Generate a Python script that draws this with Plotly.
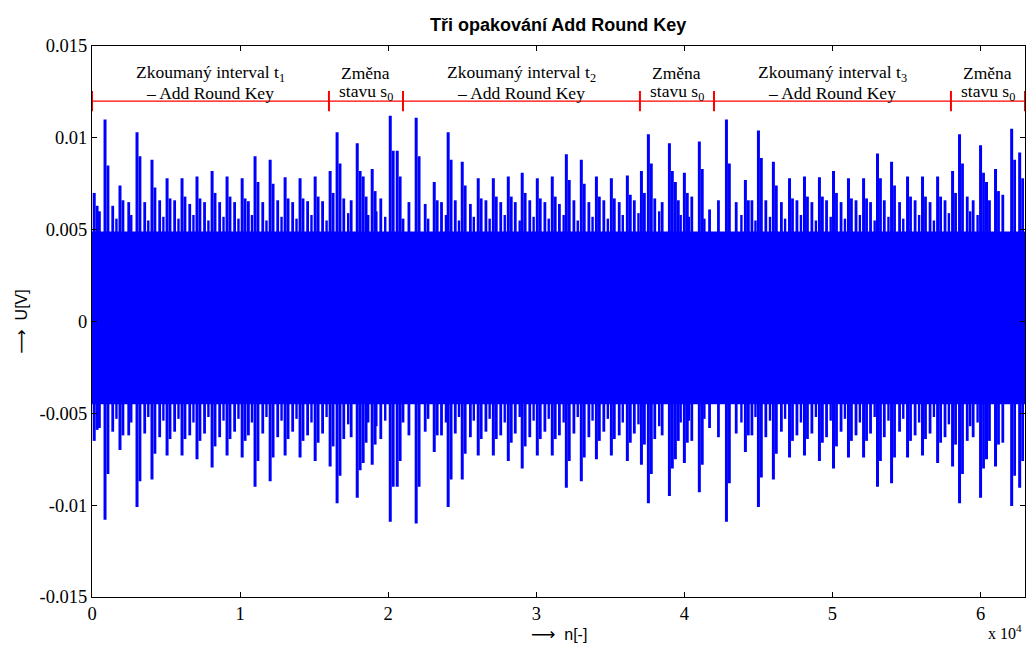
import plotly.graph_objects as go

# ---- trace data (sample index n, voltage U in volts) ----
N_SAMPLES = 63000

# dominant peaks of the trace: position, positive and negative extreme
peak_n = [150, 880, 1890, 3040, 4050, 5070, 6080, 7090, 8110, 9120, 10140, 11010, 12030,
          13040, 14050, 15070, 16080, 16550, 17910, 18310, 18920, 20140, 20610,
          21890, 23110, 24050, 25000, 26080, 27100, 28110, 29050, 30070, 31080, 32030,
          33040, 34060, 35070, 36150, 37100, 37570, 38990, 39390, 40000, 41010,
          42840, 44120, 45000, 46010, 47100, 48110, 49120, 50070, 51080, 52100, 53040,
          53990, 55070, 56080, 57100, 58110, 58580, 60000, 60400, 61010, 62100, 62640]
peak_hi = [0.0070, 0.0110, 0.0074, 0.0103, 0.0088, 0.0078, 0.0078, 0.0079, 0.0082, 0.0079,
           0.0078, 0.0090, 0.0088, 0.00785, 0.0078, 0.0079, 0.0082, 0.0103, 0.0097, 0.0079,
           0.0083, 0.0112, 0.0093,
           0.0111, 0.0076, 0.0103, 0.0087, 0.0078, 0.0078, 0.0079, 0.0081, 0.0078, 0.0079,
           0.0091, 0.0088, 0.0079, 0.0078, 0.00795, 0.0082, 0.0102, 0.0097, 0.0076, 0.0081,
           0.0098,
           0.0110, 0.0077, 0.0104, 0.0087, 0.0078, 0.0079, 0.00785, 0.0082, 0.0078, 0.0078,
           0.00915, 0.0087, 0.0079, 0.0079, 0.0079, 0.0082, 0.0102, 0.0096, 0.0076, 0.0083,
           0.0105, 0.0092]
peak_lo = [-0.0065, -0.0108, -0.0070, -0.0101, -0.0086, -0.0073, -0.0073, -0.0075, -0.00795,
           -0.0073, -0.0074, -0.0090, -0.0087, -0.0073, -0.0074, -0.0076, -0.0079, -0.0099,
           -0.0096, -0.0077, -0.0078, -0.0109, -0.0090,
           -0.0110, -0.0071, -0.0101, -0.0086, -0.0073, -0.0073, -0.0076, -0.0080, -0.0073,
           -0.0073, -0.00905, -0.0087, -0.0075, -0.0073, -0.0076, -0.0078, -0.0099, -0.0095,
           -0.0075, -0.0077, -0.0093,
           -0.0109, -0.0071, -0.0101, -0.0086, -0.0074, -0.0073, -0.0076, -0.0080, -0.0074,
           -0.0074, -0.0090, -0.0088, -0.0074, -0.0073, -0.0077, -0.0079, -0.0099, -0.0096,
           -0.0075, -0.0079, -0.01005, -0.00905]

# shoulders right next to the dominant peaks
shoulder_n = [350, 1080, 2090, 3240, 4250, 5270, 6280, 7290, 8310, 9320, 10340, 11210, 12230,
              13240, 14250, 15270, 16280, 16750, 18110, 18510, 19120, 20340, 20810,
              22090, 23310, 24250, 25200, 26280, 27300, 28310, 29250, 30270, 31280, 32230,
              33240, 34260, 35270, 36350, 37300, 37770, 39190, 39590, 40200, 41210,
              43040, 44320, 45200, 46210, 47300, 48310, 49320, 50270, 51280, 52300, 53240,
              54190, 55270, 56280, 57300, 58310, 58780, 60200, 60600, 61210, 62300, 62840]
shoulder_hi = [0.0063, 0.0085, 0.0066, 0.0090, 0.0073, 0.0067, 0.0068, 0.0067, 0.0070, 0.0068,
               0.0067, 0.0076, 0.0075, 0.0067, 0.0067, 0.0068, 0.0070, 0.0086, 0.0082, 0.0068,
               0.0071, 0.0093, 0.0079,
               0.0090, 0.0066, 0.0088, 0.0074, 0.0067, 0.0068, 0.0068, 0.0070, 0.0067, 0.0068,
               0.0077, 0.0075, 0.0068, 0.0067, 0.0069, 0.0070, 0.0086, 0.0082, 0.0066, 0.0070,
               0.0083,
               0.0086, 0.0066, 0.0089, 0.0074, 0.0067, 0.0068, 0.0068, 0.0070, 0.0067, 0.0067,
               0.0078, 0.0074, 0.0068, 0.0068, 0.0068, 0.0070, 0.0086, 0.0081, 0.0066, 0.0071,
               0.0088, 0.0078]
shoulder_lo = [-0.0059, -0.0083, -0.0062, -0.0087, -0.0072, -0.0064, -0.0064, -0.0065, -0.0068,
               -0.0064, -0.0065, -0.0076, -0.0074, -0.0064, -0.0065, -0.0066, -0.0068, -0.0084,
               -0.0081, -0.0066, -0.0067, -0.0090, -0.0076,
               -0.0090, -0.0062, -0.0086, -0.0072, -0.0064, -0.0064, -0.0066, -0.0068, -0.0064,
               -0.0064, -0.0076, -0.0074, -0.0065, -0.0064, -0.0066, -0.0067, -0.0083, -0.0080,
               -0.0065, -0.0066, -0.0078,
               -0.0088, -0.0062, -0.0085, -0.0072, -0.0065, -0.0064, -0.0066, -0.0068, -0.0065,
               -0.0065, -0.0076, -0.0074, -0.0065, -0.0064, -0.0066, -0.0067, -0.0083, -0.0080,
               -0.0065, -0.0067, -0.0084, -0.0076]

# secondary peaks between the dominant ones
minor_n = [500, 1400, 2480, 3560, 4570, 5580, 6600, 7600, 8620, 9630, 10560, 11530, 12540,
           13550, 14560, 15570, 17000, 17500, 19500, 21000, 21400, 22500, 23600, 24530,
           25550, 26600, 27600, 28580, 29560, 30580, 31560, 32540, 33550, 34560, 35600,
           36620, 38000, 38500, 40500, 41700, 42300, 43500, 44560, 45500, 46550, 47600,
           48610, 49600, 50580, 51590, 52570, 53500, 54530, 55580, 56590, 57600, 59100,
           59500, 61500]
minor_hi = [0.0060, 0.0063, 0.0065, 0.0065, 0.0066, 0.0066, 0.0064, 0.0065, 0.0065, 0.0065,
            0.00655, 0.0065, 0.0066, 0.0065, 0.00655, 0.00655, 0.0067, 0.0066, 0.0067,
            0.0056, 0.0065, 0.0064, 0.0065, 0.0066, 0.0064, 0.0066, 0.0065, 0.0065, 0.0066,
            0.0065, 0.0064, 0.0066, 0.0065, 0.0066, 0.0065, 0.0066, 0.0067, 0.0065, 0.0068,
            0.0061, 0.0066, 0.0065, 0.0066, 0.0066, 0.0065, 0.0066, 0.0065, 0.0066, 0.0065,
            0.0066, 0.0065, 0.0066, 0.0065, 0.0066, 0.0065, 0.0066, 0.0068, 0.0066, 0.0069]
minor_lo = [-0.0058, -0.0060, -0.0062, -0.0061, -0.0063, -0.0060, -0.0062, -0.0061, -0.0063,
            -0.0060, -0.0062, -0.0061, -0.0063, -0.0060, -0.0062, -0.0061, -0.0064, -0.0063,
            -0.0064, -0.0055, -0.0062, -0.0060, -0.0062, -0.0061, -0.0063, -0.0060, -0.0062,
            -0.0061, -0.0063, -0.0060, -0.0062, -0.0061, -0.0063, -0.0060, -0.0062, -0.0061,
            -0.0064, -0.0062, -0.0065, -0.0058, -0.0063, -0.0061, -0.0062, -0.0063, -0.0060,
            -0.0062, -0.0061, -0.0063, -0.0060, -0.0062, -0.0061, -0.0063, -0.0060, -0.0062,
            -0.0061, -0.0063, -0.0065, -0.0063, -0.0066]

# small excursions just above / below the dense core
small_n = [1650, 2650, 3800, 4820, 5840, 6850, 7860, 8880, 9890, 10800, 11780, 12800, 13810,
           14820, 15840, 17300, 18650, 19200, 19800,
           22700, 23900, 24780, 25780, 26850, 27870, 28880, 29820, 30840, 31850, 32800,
           33800, 34830, 35840, 36900, 38300, 39750, 40300, 41350,
           43850, 44800, 45780, 46800, 47870, 48880, 49880, 50840, 51850, 52850, 53780,
           54780, 55850, 56850, 57860, 59300, 59800, 61800]
small_hi = [0.0056, 0.0058, 0.0055, 0.0057, 0.0056, 0.0058, 0.0055, 0.0057, 0.0056, 0.0058,
            0.0055, 0.0057, 0.0056, 0.0058, 0.0055, 0.0059, 0.0058, 0.0060, 0.0057,
            0.0056, 0.0058, 0.0055, 0.0057, 0.0056, 0.0058, 0.0055, 0.0057, 0.0056, 0.0058,
            0.0055, 0.0057, 0.0056, 0.0058, 0.0059, 0.0060, 0.0058, 0.0057,
            0.0056, 0.0058, 0.0055, 0.0057, 0.0056, 0.0058, 0.0055, 0.0057, 0.0056, 0.0058,
            0.0055, 0.0057, 0.0056, 0.0058, 0.0055, 0.0059, 0.0060, 0.0058]
small_lo = [-0.0053, -0.0055, -0.0052, -0.0054, -0.0053, -0.0055, -0.0052, -0.0054, -0.0053,
            -0.0055, -0.0052, -0.0054, -0.0053, -0.0055, -0.0052, -0.0056, -0.0055, -0.0057,
            -0.0054,
            -0.0053, -0.0055, -0.0052, -0.0054, -0.0053, -0.0055, -0.0052, -0.0054, -0.0053,
            -0.0055, -0.0052, -0.0054, -0.0053, -0.0055, -0.0056, -0.0057, -0.0055, -0.0054,
            -0.0053, -0.0055, -0.0052, -0.0054, -0.0053, -0.0055, -0.0052, -0.0054, -0.0053,
            -0.0055, -0.0052, -0.0054, -0.0053, -0.0055, -0.0052, -0.0056, -0.0057, -0.0055]

# dense core of the trace
band_top = 0.0049
band_bottom = -0.0045

# interval markers (sample boundaries) and their captions
interval_bounds = [0, 16000, 21000, 37000, 42000, 58000, 63000]
interval_level = 0.012
interval_line1 = ["Zkoumaný interval t<sub>1</sub>", "Změna",
                  "Zkoumaný interval t<sub>2</sub>", "Změna",
                  "Zkoumaný interval t<sub>3</sub>", "Změna"]
interval_line2 = ["– Add Round Key", "stavu s<sub>0</sub>",
                  "– Add Round Key", "stavu s<sub>0</sub>",
                  "– Add Round Key", "stavu s<sub>0</sub>"]

x_tick_vals = [0, 10000, 20000, 30000, 40000, 50000, 60000]
x_tick_text = ["0", "1", "2", "3", "4", "5", "6"]
y_tick_vals = [0.015, 0.01, 0.005, 0, -0.005, -0.01, -0.015]
y_tick_text = ["0.015", "0.01", "0.005", "0", "-0.005", "-0.01", "-0.015"]

BLUE = "#0000ff"
RED = "#ff0000"
SERIF = "Liberation Serif, DejaVu Serif, serif"
SANS = "Liberation Sans, Arial, sans-serif"
ARROW = '<span style="font-family:DejaVu Sans;font-size:17px">⟶</span>'


def segments(xs, lows, highs):
    sx, sy = [], []
    for x, lo, hi in zip(xs, lows, highs):
        sx += [x, x, None]
        sy += [lo, hi, None]
    return sx, sy


fig = go.Figure()

# core band
fig.add_trace(go.Scatter(x=[0, N_SAMPLES], y=[band_bottom, band_bottom], mode="lines",
                         line=dict(color=BLUE, width=0), hoverinfo="skip", showlegend=False))
fig.add_trace(go.Scatter(x=[0, N_SAMPLES], y=[band_top, band_top], mode="lines",
                         line=dict(color=BLUE, width=0), fill="tonexty", fillcolor=BLUE,
                         hoverinfo="skip", showlegend=False))

for xs, lo, hi, w in [(small_n, small_lo, small_hi, 2.4),
                      (minor_n, minor_lo, minor_hi, 2.8),
                      (shoulder_n, shoulder_lo, shoulder_hi, 2.8),
                      (peak_n, peak_lo, peak_hi, 3.0)]:
    sx, sy = segments(xs, lo, hi)
    fig.add_trace(go.Scatter(x=sx, y=sy, mode="lines", line=dict(color=BLUE, width=w),
                             hoverinfo="skip", showlegend=False))

# interval marker line with boundary ticks
fig.add_trace(go.Scatter(x=[interval_bounds[0], interval_bounds[-1]],
                         y=[interval_level, interval_level], mode="lines",
                         line=dict(color=RED, width=1.3), hoverinfo="skip", showlegend=False))
tick_half = 0.00055
bx, by = segments(interval_bounds, [interval_level - tick_half] * len(interval_bounds),
                  [interval_level + tick_half] * len(interval_bounds))
fig.add_trace(go.Scatter(x=bx, y=by, mode="lines", line=dict(color=RED, width=2),
                         hoverinfo="skip", showlegend=False))

annotations = []
for a, b, t1, t2 in zip(interval_bounds[:-1], interval_bounds[1:], interval_line1, interval_line2):
    for txt, yv in [(t1, 0.01352), (t2, 0.01245)]:
        annotations.append(dict(x=(a + b) / 2, y=yv, xref="x", yref="y", text=txt,
                                showarrow=False, xanchor="center", yanchor="middle",
                                font=dict(family=SERIF, size=17.5, color="black")))

annotations.append(dict(x=0.5, y=-0.068, xref="paper", yref="paper", text=ARROW + "  n[-]",
                        showarrow=False, xanchor="center", yanchor="middle",
                        font=dict(family=SANS, size=16, color="black")))
annotations.append(dict(x=-0.077, y=0.5, xref="paper", yref="paper", text=ARROW + "  U[V]",
                        showarrow=False, textangle=-90, xanchor="center", yanchor="middle",
                        font=dict(family=SANS, size=16, color="black")))
annotations.append(dict(x=0.999, y=-0.064, xref="paper", yref="paper", text="x 10<sup>4</sup>",
                        showarrow=False, xanchor="right", yanchor="middle",
                        font=dict(family=SERIF, size=16, color="black")))

fig.update_layout(
    width=1026, height=646,
    margin=dict(l=92, r=1, t=46, b=49),
    paper_bgcolor="white", plot_bgcolor="white",
    font=dict(family=SERIF, size=18, color="black"),
    title=dict(text="<b>Tři opakování Add Round Key</b>", x=0.544, xanchor="center",
               y=0.961, yanchor="middle", font=dict(family=SANS, size=18, color="black")),
    annotations=annotations,
    showlegend=False,
)
fig.update_xaxes(range=[0, N_SAMPLES], tickvals=x_tick_vals, ticktext=x_tick_text,
                 ticks="inside", ticklen=5, tickcolor="black", showline=True, linecolor="black",
                 linewidth=1, mirror="ticks", showgrid=False, zeroline=False,
                 tickfont=dict(family=SERIF, size=18.5))
fig.update_yaxes(range=[-0.015, 0.015], tickvals=y_tick_vals, ticktext=y_tick_text,
                 ticks="inside", ticklen=5, tickcolor="black", showline=True, linecolor="black",
                 linewidth=1, mirror="ticks", showgrid=False, zeroline=False,
                 tickfont=dict(family=SERIF, size=18.5))

fig.write_html("out.html")
